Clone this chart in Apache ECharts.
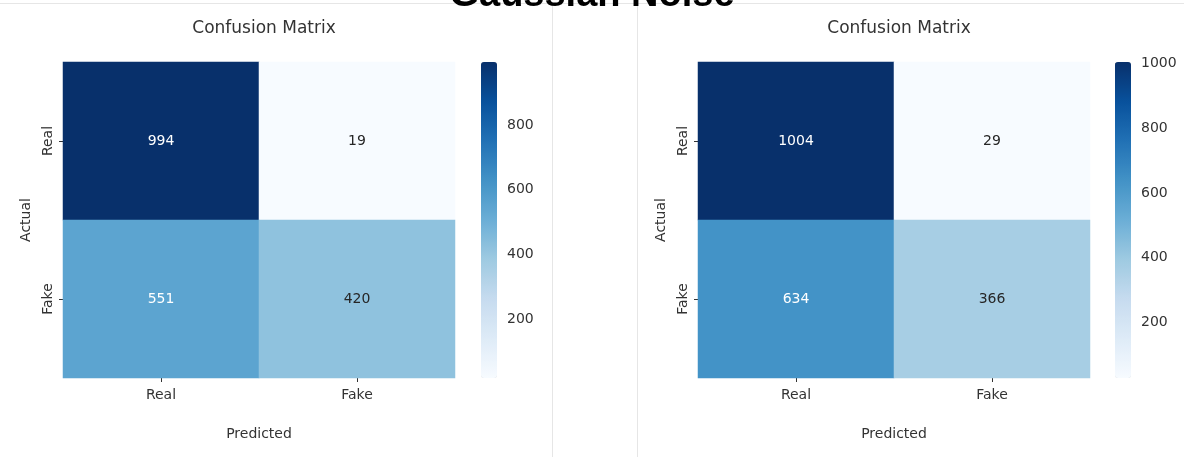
<!DOCTYPE html>
<html>
<head>
<meta charset="utf-8">
<script src="https://cdn.jsdelivr.net/npm/echarts@6/dist/echarts.min.js"></script>
<style>
  html, body { margin: 0; padding: 0; background: #ffffff; }
  #chart { width: 1184px; height: 457px; }
</style>
</head>
<body>
<div id="chart"></div>
<script>
// Class labels shared by both confusion matrices
const predictedLabels = ['Real', 'Fake'];
const actualLabels = ['Real', 'Fake'];

// Counts, row = actual class, column = predicted class
const leftMatrix = [
  [994, 19],
  [551, 420]
];
const rightMatrix = [
  [1004, 29],
  [634, 366]
];

// Colour bar ticks
const colorbarTicks = [200, 400, 600, 800, 1000];

const mainTitle = 'Gaussian Noise';
const panelTitle = 'Confusion Matrix';

// Matplotlib "Blues" colour stops
const blues = ['#f7fbff', '#deebf7', '#c6dbef', '#9ecae1', '#6baed6',
               '#4292c6', '#2171b5', '#08519c', '#08306b'];

const TEXT = '#333333';
const FONT = '"DejaVu Sans", sans-serif';
const FS = 14;

function flatten(m) {
  const out = [];
  m.forEach((row, r) => row.forEach((v, c) => out.push([c, r, v])));
  return out;
}

function extent(m) {
  const all = m.flat();
  return [Math.min(...all), Math.max(...all)];
}

function cellData(m) {
  const [lo, hi] = extent(m);
  return flatten(m).map(d => ({
    value: d,
    label: { color: (d[2] - lo) / (hi - lo) > 0.45 ? '#ffffff' : '#262626' }
  }));
}

// Panel geometry
const panels = [
  { matrix: leftMatrix, left: 63, cbLeft: 481 },
  { matrix: rightMatrix, left: 698, cbLeft: 1115 }
];
const TOP = 62, W = 392, H = 316, CBW = 16;

const grid = [], xAxis = [], yAxis = [], series = [], visualMap = [], title = [];

title.push({
  text: mainTitle,
  left: 'center',
  top: -28,
  textStyle: { fontFamily: '"Liberation Sans", Arial, sans-serif', fontWeight: 'bold', fontSize: 38, color: '#000' }
});

panels.forEach((p, i) => {
  const [lo, hi] = extent(p.matrix);
  const gi = grid.length;

  // heatmap grid
  grid.push({ left: p.left, top: TOP, width: W, height: H });
  xAxis.push({
    type: 'category', gridIndex: gi, data: predictedLabels,
    axisLine: { show: false },
    axisTick: { show: true, alignWithLabel: true, length: 4, lineStyle: { color: TEXT } },
    axisLabel: { color: TEXT, fontSize: FS, fontFamily: FONT, margin: 10 },
    splitLine: { show: false },
    name: 'Predicted', nameLocation: 'middle', nameGap: 49,
    nameTextStyle: { color: TEXT, fontSize: FS, fontFamily: FONT }
  });
  yAxis.push({
    type: 'category', gridIndex: gi, data: actualLabels, inverse: true,
    axisLine: { show: false },
    axisTick: { show: true, alignWithLabel: true, length: 4, lineStyle: { color: TEXT } },
    axisLabel: { color: TEXT, fontSize: FS, fontFamily: FONT, rotate: 90, margin: 8, align: 'center', verticalAlign: 'bottom' },
    splitLine: { show: false },
    name: 'Actual', nameLocation: 'middle', nameGap: 30, nameRotate: 90,
    nameTextStyle: { color: TEXT, fontSize: FS, fontFamily: FONT, verticalAlign: 'bottom' }
  });
  series.push({
    type: 'heatmap', xAxisIndex: gi, yAxisIndex: gi,
    data: cellData(p.matrix),
    label: { show: true, formatter: q => q.value[2], fontSize: FS, fontFamily: FONT },
    itemStyle: { borderWidth: 0 },
    emphasis: { disabled: true }
  });
  visualMap.push({
    type: 'continuous', seriesIndex: series.length - 1,
    min: lo, max: hi, calculable: false, hoverLink: false,
    orient: 'vertical', left: p.cbLeft, top: TOP, padding: 0,
    itemWidth: CBW, itemHeight: H, text: null,
    inRange: { color: blues }
  });

  // colour bar axis
  const ci = grid.length;
  grid.push({ left: p.cbLeft, top: TOP, width: CBW, height: H, show: false });
  xAxis.push({ type: 'value', gridIndex: ci, show: false });
  const ticks = colorbarTicks.filter(t => t >= lo && t <= hi);
  yAxis.push({
    type: 'value', gridIndex: ci, position: 'right', min: lo, max: hi,
    axisLine: { show: false },
    splitLine: { show: false },
    axisTick: { show: true, length: 5, customValues: ticks, lineStyle: { color: TEXT } },
    axisLabel: { color: TEXT, fontSize: FS, fontFamily: FONT, margin: 10, customValues: ticks, formatter: v => String(v) }
  });

  title.push({
    text: panelTitle,
    left: p.left + W / 2, top: 15, textAlign: 'center',
    textStyle: { color: TEXT, fontSize: 17, fontWeight: 'normal', fontFamily: FONT }
  });
});

const chart = echarts.init(document.getElementById('chart'), null, { renderer: 'canvas' });
chart.setOption({
  backgroundColor: '#ffffff',
  animation: false,
  title, grid, xAxis, yAxis, series, visualMap,
  graphic: [
    // page frame lines around the two panels
    { type: 'line', z: -1, shape: { x1: 0, y1: 3.5, x2: 1184, y2: 3.5 }, style: { stroke: '#e6e6e6', lineWidth: 1 } },
    { type: 'line', z: -1, shape: { x1: 552.5, y1: 3, x2: 552.5, y2: 457 }, style: { stroke: '#e6e6e6', lineWidth: 1 } },
    { type: 'line', z: -1, shape: { x1: 637.5, y1: 3, x2: 637.5, y2: 457 }, style: { stroke: '#e6e6e6', lineWidth: 1 } }
  ]
});
</script>
</body>
</html>
